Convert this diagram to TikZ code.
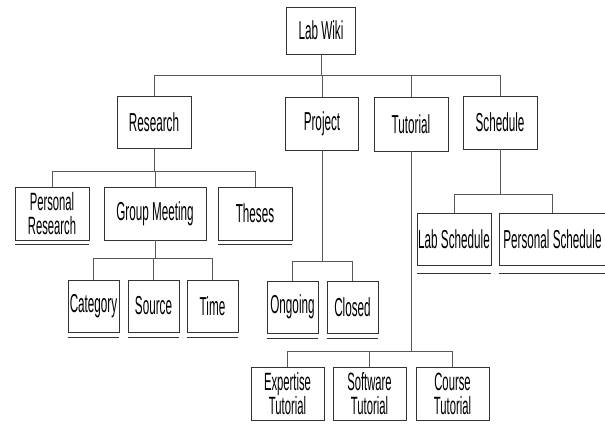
\documentclass[tikz,border=0pt]{standalone}
\usepackage{fontspec}
\setmainfont[FakeStretch=0.45]{Liberation Sans}
\begin{document}
\begin{tikzpicture}[x=1pt,y=-1pt,
  box/.style={draw=black!80,line width=0.9pt,fill=white,inner sep=0pt,
    minimum height=53pt,align=center,font=\fontsize{26}{22}\selectfont},
  twoline/.style={font=\fontsize{25}{24}\selectfont},
  conn/.style={draw=black!65,line width=1pt},
  ul/.style={draw=black!80,line width=1.2pt}]
\useasboundingbox[fill=white] (0,0) rectangle (605,425);
% level 0
\node[box,minimum width=69pt,minimum height=47pt] (labwiki) at (321,30.5) {Lab Wiki};
% level 1
\node[box,minimum width=74pt,minimum height=52pt] (research) at (154,122) {Research};
\node[box,minimum width=73pt] (project) at (322,123.5) {Project};
\node[box,minimum width=74pt,minimum height=54pt] (tutorial) at (411,124) {Tutorial};
\node[box,minimum width=74pt] (schedule) at (500,122.5) {Schedule};
% research children
\node[box,twoline,minimum width=74pt] (persres) at (52,213.5) {Personal\\Research};
\node[box,minimum width=102pt] (groupmeet) at (155,213.5) {Group Meeting};
\node[box,minimum width=74pt] (theses) at (255,213.5) {Theses};
% group meeting children
\node[box,minimum width=51pt,minimum height=52pt] (category) at (93.5,306) {Category};
\node[box,minimum width=51pt,minimum height=52pt] (source) at (153.5,306) {Source};
\node[box,minimum width=51pt,minimum height=52pt] (time) at (212.5,306) {Time};
% project children
\node[box,minimum width=51pt,minimum height=52pt] (ongoing) at (292.5,307) {Ongoing};
\node[box,minimum width=51pt,minimum height=52pt] (closed) at (352.5,307) {Closed};
% schedule children
\node[box,minimum width=74pt,minimum height=52pt] (labsched) at (454,239) {Lab Schedule};
\node[box,minimum width=107pt,minimum height=52pt] (perssched) at (552.5,239) {Personal Schedule};
% tutorial children
\node[box,twoline,minimum width=73pt] (expertise) at (287.5,393.5) {Expertise\\Tutorial};
\node[box,twoline,minimum width=73pt] (software) at (369.5,393.5) {Software\\Tutorial};
\node[box,twoline,minimum width=73pt] (course) at (452.5,393.5) {Course\\Tutorial};
% bars
\coordinate (b0) at (321,76);
\coordinate (b1) at (154,171);
\coordinate (b2) at (155,258);
\coordinate (b3) at (322,261);
\coordinate (b4) at (500,194);
\coordinate (b5) at (411,351);
% connectors
\draw[conn] (labwiki.south) -- (b0);
\foreach \c in {research,project,tutorial,schedule} \draw[conn] (b0) -| (\c.north);
\draw[conn] (research.south) -- (b1);
\foreach \c in {persres,groupmeet,theses} \draw[conn] (b1) -| (\c.north);
\draw[conn] (groupmeet.south) -- (b2);
\foreach \c in {category,source,time} \draw[conn] (b2) -| (\c.north);
\draw[conn] (project.south) -- (b3);
\foreach \c in {ongoing,closed} \draw[conn] (b3) -| (\c.north);
\draw[conn] (schedule.south) -- (b4);
\foreach \c in {labsched,perssched} \draw[conn] (b4) -| (\c.north);
\draw[conn] (tutorial.south) -- (b5);
\foreach \c in {expertise,software,course} \draw[conn] (b5) -| (\c.north);
% underlines
\foreach \n in {persres,theses} \draw[ul] ([yshift=-4pt]\n.south west) -- ([yshift=-4pt]\n.south east);
\foreach \n in {category,source,time,ongoing,closed} \draw[ul] ([yshift=-5pt]\n.south west) -- ([yshift=-5pt]\n.south east);
\foreach \n in {labsched,perssched} \draw[ul] ([yshift=-8pt]\n.south west) -- ([yshift=-8pt]\n.south east);
\end{tikzpicture}
\end{document}
